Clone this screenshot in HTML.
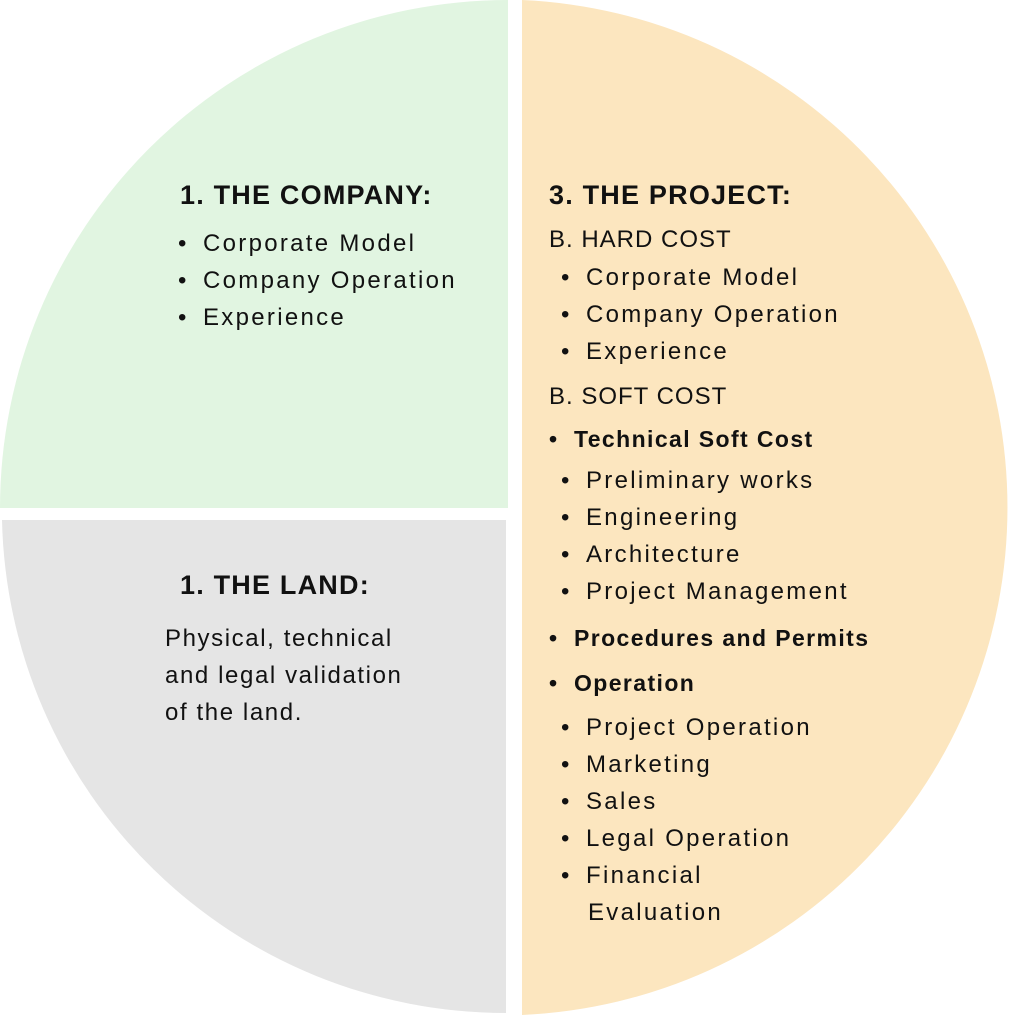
<!DOCTYPE html>
<html><head><style>
html,body{margin:0;padding:0;background:#fff;}
.w{position:relative;width:1009px;height:1015px;overflow:hidden;font-family:"Liberation Sans",sans-serif;color:#111;}
svg{position:absolute;left:0;top:0;}
.t{position:absolute;white-space:nowrap;}
.h{font-weight:bold;font-size:27px;letter-spacing:1.2px;}
.i{font-size:24px;letter-spacing:2.3px;}
.b{font-weight:bold;font-size:23px;letter-spacing:1.4px;}
.d{display:inline-block;width:25px;letter-spacing:0;}
</style></head><body><div class="w">
<svg width="1009" height="1015">
<path d="M508 508 L0 508 A508 508 0 0 1 508 0 Z" fill="#e1f5e1"/>
<path d="M506 520 L2 520 A504 504 0 0 0 506 1013 Z" fill="#e5e5e5"/>
<path d="M522 0 A508 508 0 0 1 522 1015 Z" fill="#fce6bf"/>
</svg>
<div class="t h" style="left:180px;top:180px">1.&nbsp;THE COMPANY:</div>
<div class="t i" style="left:178px;top:230px"><span class="d">•</span>Corporate Model</div>
<div class="t i" style="left:178px;top:267px"><span class="d">•</span>Company Operation</div>
<div class="t i" style="left:178px;top:304px"><span class="d">•</span>Experience</div>

<div class="t h" style="left:180px;top:570px">1.&nbsp;THE LAND:</div>
<div class="t i" style="left:165px;top:620px;line-height:37px;letter-spacing:1.6px">Physical, technical<br>and legal validation<br>of the land.</div>

<div class="t h" style="left:549px;top:180px">3.&nbsp;THE PROJECT:</div>
<div class="t i" style="left:549px;top:226px;letter-spacing:1px">B. HARD COST</div>
<div class="t i" style="left:561px;top:264px"><span class="d">•</span>Corporate Model</div>
<div class="t i" style="left:561px;top:301px"><span class="d">•</span>Company Operation</div>
<div class="t i" style="left:561px;top:338px"><span class="d">•</span>Experience</div>
<div class="t i" style="left:549px;top:383px;letter-spacing:1px">B. SOFT COST</div>
<div class="t b" style="left:549px;top:426px"><span class="d">•</span>Technical Soft Cost</div>
<div class="t i" style="left:561px;top:467px"><span class="d">•</span>Preliminary works</div>
<div class="t i" style="left:561px;top:504px"><span class="d">•</span>Engineering</div>
<div class="t i" style="left:561px;top:541px"><span class="d">•</span>Architecture</div>
<div class="t i" style="left:561px;top:578px"><span class="d">•</span>Project Management</div>
<div class="t b" style="left:549px;top:625px"><span class="d">•</span>Procedures and Permits</div>
<div class="t b" style="left:549px;top:670px"><span class="d">•</span>Operation</div>
<div class="t i" style="left:561px;top:714px"><span class="d">•</span>Project Operation</div>
<div class="t i" style="left:561px;top:751px"><span class="d">•</span>Marketing</div>
<div class="t i" style="left:561px;top:788px"><span class="d">•</span>Sales</div>
<div class="t i" style="left:561px;top:825px"><span class="d">•</span>Legal Operation</div>
<div class="t i" style="left:561px;top:862px"><span class="d">•</span>Financial</div>
<div class="t i" style="left:588px;top:899px">Evaluation</div>
</div></body></html>
